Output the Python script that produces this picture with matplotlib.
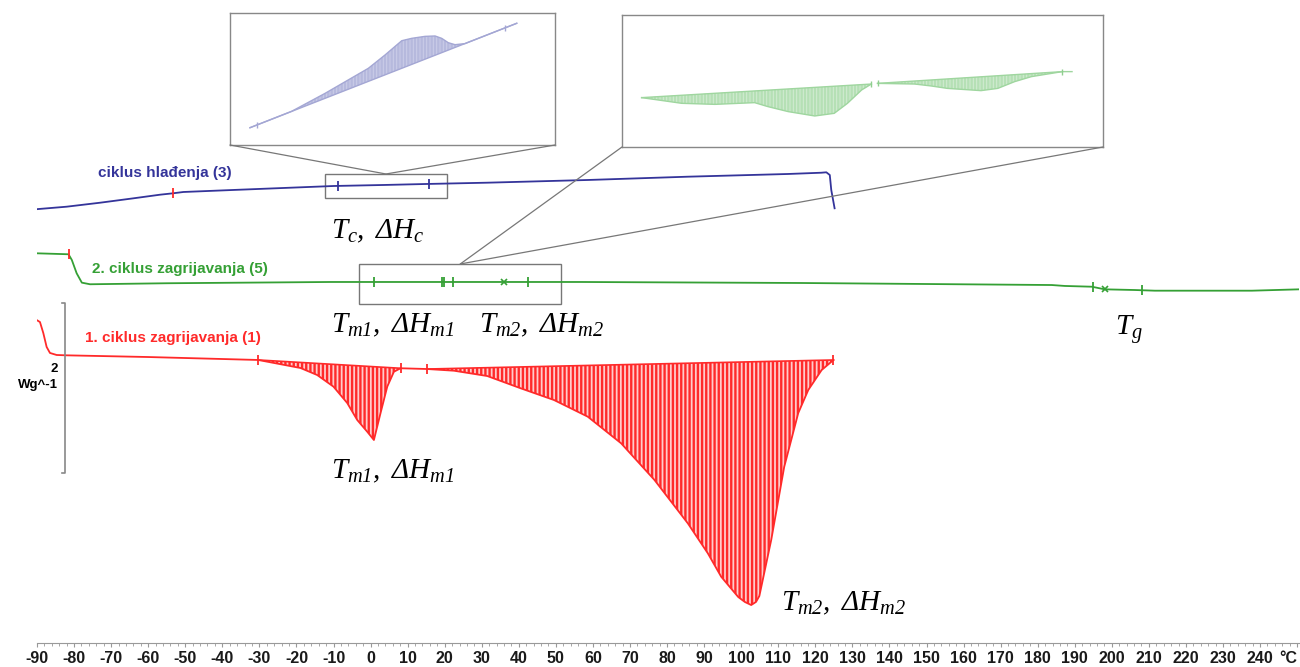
import matplotlib.pyplot as plt
from matplotlib.patches import Rectangle, ConnectionPatch
import numpy as np

plt.rcParams['font.family'] = ['Liberation Sans', 'DejaVu Sans']
plt.rcParams['mathtext.fontset'] = 'custom'
plt.rcParams['mathtext.rm'] = 'Liberation Serif:italic'
plt.rcParams['mathtext.it'] = 'Liberation Serif:italic'
plt.rcParams['hatch.linewidth'] = 1.7

# --- main DSC curves (temperature in C, heat flow in W/g, stacked as displayed) ---
red_T = [-90.1, -89.2, -88.3, -87.4, -86.5, -84.7, -82, -60, -30.3, -27.9, -18.9, -14.4, -10,
         -6.3, -3.6, -0.9, 0.9, 2.7, 4.5, 6.3, 8.1, 15.3, 22.5, 31.5, 40.5, 49.5, 58.6, 67.6,
         76.6, 85.6, 91.0, 94.6, 99.2, 101.0, 102.7, 104.0, 104.9, 108.1, 111.6, 115.4, 118.1,
         121.7, 124.9]
red_hf = [3.846, 3.822, 3.692, 3.527, 3.456, 3.432, 3.428, 3.408, 3.373, 3.353, 3.278, 3.195,
          3.057, 2.864, 2.663, 2.524, 2.426, 2.746, 3.057, 3.234, 3.275, 3.266, 3.246, 3.183,
          3.038, 2.899, 2.702, 2.387, 1.953, 1.440, 1.085, 0.808, 0.568, 0.509, 0.473, 0.510,
          0.580, 1.243, 2.107, 2.746, 3.018, 3.254, 3.373]
red_base1_T = [-30.3, 8.1]
red_base1_hf = [3.373, 3.275]
red_base2_T = [15.3, 124.9]
red_base2_hf = [3.266, 3.373]

blue_T = [-90.5, -82, -73, -64, -56.8, -53.4, -50.5, -37, -9.9, 3.6, 15.3, 31.5, 58.6, 85.6,
          112.6, 121.6, 122.97, 123.9, 124.3, 125.2]
blue_hf = [5.156, 5.187, 5.234, 5.286, 5.329, 5.345, 5.361, 5.385, 5.432, 5.444, 5.456, 5.471,
           5.503, 5.542, 5.574, 5.589, 5.594, 5.562, 5.385, 5.168]

green_T = [-90.5, -81.5, -80.6, -79.3, -77.9, -75.7, -54.9, -10.8, 56.8, 116.2, 183.8, 187.3,
           194.6, 198.1, 206.2, 211.6, 237.8, 250.5]
green_hf = [4.636, 4.624, 4.556, 4.399, 4.288, 4.269, 4.281, 4.296, 4.296, 4.284, 4.260, 4.249,
            4.240, 4.209, 4.201, 4.193, 4.193, 4.209]

# event markers
red_marks_red = [-30.3, 8.1, 15.3, 124.9]
blue_marks_red = [-90.5, -53.4]
blue_marks = [-8.9, 15.7]
green_marks_red = [-90.5, -81.5]
green_marks = [0.8, 19.3, 19.9, 22.2, 42.4, 194.9, 208.1]
green_x_marks = [36.0, 198.1]

# --- inset data (relative units) ---
ins_blue_T = [-10.19, -6.0, -2.64, 1.72, 3.4, 5.08, 6.08, 7.42, 8.43, 9.1, 9.76, 10.44, 11.44, 16.65]
ins_blue_v = [0.131, 0.255, 0.391, 0.581, 0.682, 0.790, 0.808, 0.823, 0.826, 0.808, 0.775, 0.760,
              0.768, 0.922]
ins_blue_base_T = [-10.19, 16.65]
ins_blue_base_v = [0.131, 0.922]

ins_g1_T = [-0.78, 3.74, 7.5, 12.0, 13.5, 15.8, 18.8, 21.0, 22.5, 24.1, 25.2]
ins_g1_v = [0.374, 0.331, 0.323, 0.336, 0.306, 0.268, 0.235, 0.255, 0.331, 0.432, 0.477]
ins_g1_base_T = [-0.78, 25.2]
ins_g1_base_v = [0.374, 0.477]
ins_g2_T = [25.9, 30.1, 32.0, 33.8, 37.6, 39.5, 41.4, 43.3, 46.8]
ins_g2_v = [0.482, 0.477, 0.462, 0.444, 0.427, 0.444, 0.495, 0.533, 0.571]
ins_g2_base_T = [25.9, 46.8, 47.9]
ins_g2_base_v = [0.482, 0.571, 0.571]

red_c = '#ff2a2a'
blue_c = '#34349a'
green_c = '#35a035'

fig = plt.figure(figsize=(13, 6.67), dpi=100)
ax = fig.add_axes([37 / 1300, 24 / 667, 1262 / 1300, 643 / 667])
ax.set_xlim(-90, 250.5)
ax.set_ylim(0.0237, 7.633)
for s in ['top', 'left', 'right']:
    ax.spines[s].set_visible(False)
ax.spines['bottom'].set_color('#999999')
ax.set_yticks([])
ax.set_xticks(np.arange(-90, 251, 10))
ax.set_xticks(np.arange(-90, 251, 2), minor=True)
labels = [str(v) for v in range(-90, 250, 10)] + ['°C']
ax.set_xticklabels(labels, fontsize=11.5, fontweight='bold', color='#1a1a1a')
ax.get_xticklabels()[-1].set_horizontalalignment('right')
ax.tick_params(axis='x', which='major', length=3, color='#999999', pad=3)
ax.tick_params(axis='x', which='minor', length=2, color='#999999')

# fills
rT = np.array(red_T)
rH = np.array(red_hf)
m1 = (rT >= red_base1_T[0]) & (rT <= red_base1_T[1])
ax.fill_between(rT[m1], np.interp(rT[m1], red_base1_T, red_base1_hf), rH[m1],
                facecolor='#ffcccc', edgecolor=red_c, hatch='||||', linewidth=0)
m2 = (rT >= red_base2_T[0]) & (rT <= red_base2_T[1])
ax.fill_between(rT[m2], np.interp(rT[m2], red_base2_T, red_base2_hf), rH[m2],
                facecolor='#ffcccc', edgecolor=red_c, hatch='||||', linewidth=0)

ax.plot(red_T, red_hf, color=red_c, lw=1.3)
ax.plot(red_base1_T, red_base1_hf, color=red_c, lw=1.2)
ax.plot(red_base2_T, red_base2_hf, color=red_c, lw=1.2)
ax.plot(blue_T, blue_hf, color=blue_c, lw=1.3)
ax.plot(green_T, green_hf, color=green_c, lw=1.3)

ax.plot(red_marks_red, np.interp(red_marks_red, red_T, red_hf), '|', color=red_c, ms=7, mew=1.3)
ax.plot(blue_marks_red, np.interp(blue_marks_red, blue_T, blue_hf), '|', color=red_c, ms=7, mew=1.3)
ax.plot(blue_marks, np.interp(blue_marks, blue_T, blue_hf), '|', color=blue_c, ms=7, mew=1.3)
ax.plot(green_marks_red, np.interp(green_marks_red, green_T, green_hf), '|', color=red_c, ms=7, mew=1.3)
ax.plot(green_marks, np.interp(green_marks, green_T, green_hf), '|', color=green_c, ms=7, mew=1.3)
ax.plot(green_x_marks, np.interp(green_x_marks, green_T, green_hf), 'x', color=green_c, ms=5, mew=1.2)

# curve labels
ax.text(-73.5, 5.586, 'ciklus hlađenja (3)', color=blue_c, fontsize=11, fontweight='bold', va='center')
ax.text(-75.1, 4.450, '2. ciklus zagrijavanja (5)', color=green_c, fontsize=11, fontweight='bold', va='center')
ax.text(-77.0, 3.633, '1. ciklus zagrijavanja (1)', color=red_c, fontsize=11, fontweight='bold', va='center')

# scale bar
ax.plot([-83.2, -82.4, -82.4, -83.2], [4.047, 4.047, 2.036, 2.036], color='#888888', lw=1.2, clip_on=False)
ax.text(-84.3, 3.266, '2', fontsize=9.5, fontweight='bold', ha='right', va='center')
ax.text(-84.3, 3.077, 'Wg^-1', fontsize=9.5, fontweight='bold', ha='right', va='center')

# annotations
fs = 21
ax.text(-10.8, 4.817, r'$T_{c},\ \Delta H_{c}$', fontsize=fs, va='baseline')
ax.text(-10.8, 3.704, r'$T_{m1},\ \Delta H_{m1}$', fontsize=fs, va='baseline')
ax.text(29.2, 3.704, r'$T_{m2},\ \Delta H_{m2}$', fontsize=fs, va='baseline')
ax.text(200.8, 3.669, r'$T_{g}$', fontsize=fs, va='baseline')
ax.text(-10.8, 1.976, r'$T_{m1},\ \Delta H_{m1}$', fontsize=fs, va='baseline')
ax.text(110.8, 0.414, r'$T_{m2},\ \Delta H_{m2}$', fontsize=fs, va='baseline')

# zoom boxes on the main curves
bbox_blue = (-12.2, 5.290, 32.7, 0.284)
bbox_green = (-3.0, 4.036, 54.4, 0.473)
for b in [bbox_blue, bbox_green]:
    ax.add_patch(Rectangle((b[0], b[1]), b[2], b[3], fill=False, edgecolor='#777777', lw=1.0))

# insets
ins_b = fig.add_axes([230 / 1300, (667 - 145) / 667, 325 / 1300, 132 / 667])
ins_b.set_xlim(-12.2, 20.5)
ins_b.set_ylim(0, 1)
bT = np.array(ins_blue_T)
ins_b.fill_between(bT, np.interp(bT, ins_blue_base_T, ins_blue_base_v), ins_blue_v,
                   facecolor='#cbcde8', edgecolor='#b6b9dd', hatch='|||||', linewidth=0)
ins_b.plot(ins_blue_T, ins_blue_v, color='#a4a7d4', lw=1.0)
ins_b.plot(ins_blue_base_T, ins_blue_base_v, color='#a4a7d4', lw=1.0)
ins_b.plot([-9.5, 15.5], np.interp([-9.5, 15.5], ins_blue_base_T, ins_blue_base_v), '|',
           color='#a4a7d4', ms=4)

ins_g = fig.add_axes([622 / 1300, (667 - 147) / 667, 481 / 1300, 132 / 667])
ins_g.set_xlim(-3.0, 51.4)
ins_g.set_ylim(0, 1)
g1 = np.array(ins_g1_T)
ins_g.fill_between(g1, np.interp(g1, ins_g1_base_T, ins_g1_base_v), ins_g1_v,
                   facecolor='#d3ecd3', edgecolor='#b5e0b5', hatch='|||||', linewidth=0)
g2 = np.array(ins_g2_T)
ins_g.fill_between(g2, np.interp(g2, ins_g2_base_T, ins_g2_base_v), ins_g2_v,
                   facecolor='#d3ecd3', edgecolor='#b5e0b5', hatch='|||||', linewidth=0)
ins_g.plot(ins_g1_T, ins_g1_v, color='#9fd69f', lw=1.0)
ins_g.plot(ins_g1_base_T, ins_g1_base_v, color='#9fd69f', lw=1.0)
ins_g.plot(ins_g2_T, ins_g2_v, color='#9fd69f', lw=1.0)
ins_g.plot(ins_g2_base_T, ins_g2_base_v, color='#9fd69f', lw=1.0)
ins_g.plot([25.2, 25.9, 46.8], [0.477, 0.482, 0.571], '|', color='#8fcf8f', ms=5)

for ia in [ins_b, ins_g]:
    ia.set_xticks([])
    ia.set_yticks([])
    for s in ia.spines.values():
        s.set_color('#888888')
        s.set_linewidth(1.0)

# connector lines
for ia, b in [(ins_b, bbox_blue), (ins_g, bbox_green)]:
    for corner in [(0, 0), (1, 0)]:
        con = ConnectionPatch(xyA=corner, coordsA=ia.transAxes,
                              xyB=(b[0] + b[2] / 2, b[1] + b[3]), coordsB=ax.transData,
                              color='#777777', lw=0.9)
        fig.add_artist(con)

fig.savefig('out.png', dpi=100)
